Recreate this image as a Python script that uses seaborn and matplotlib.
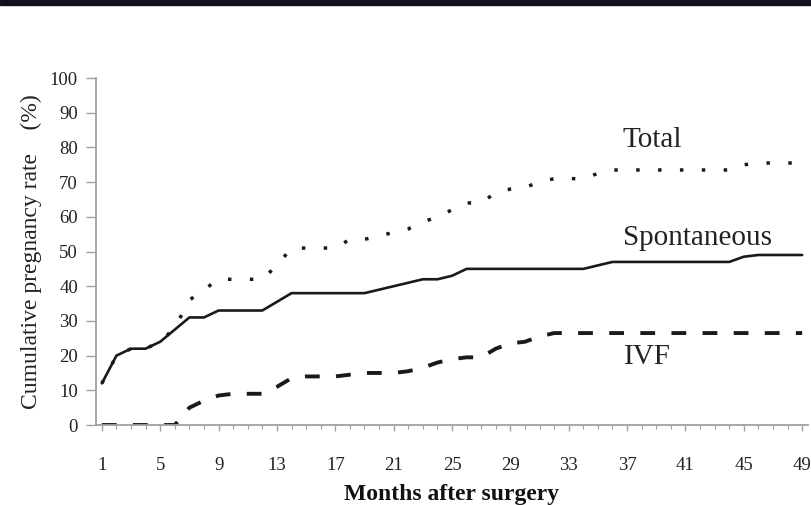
import matplotlib as mpl
mpl.use('Agg')
import matplotlib.pyplot as plt
import seaborn as sns
from matplotlib.patches import Rectangle
from matplotlib.ticker import MultipleLocator, FixedLocator

months = list(range(1, 50))

spontaneous = [12, 20, 22, 22, 24, 27.5, 31, 31, 33, 33,
               33, 33, 35.5, 38, 38, 38, 38, 38, 38, 39,
               40, 41, 42, 42, 43, 45, 45, 45, 45, 45,
               45, 45, 45, 45, 46, 47, 47, 47, 47, 47,
               47, 47, 47, 47, 48.5, 49, 49, 49, 49]

ivf = [0, 0, 0, 0, 0, 0, 5, 7, 8.5, 9,
       9, 9, 11, 13.5, 14, 14, 14, 14.5, 15, 15,
       15, 15.5, 16.5, 18, 19, 19.5, 19.5, 22, 23.5, 24,
       25.5, 26.5, 26.5, 26.5, 26.5, 26.5, 26.5, 26.5, 26.5, 26.5,
       26.5, 26.5, 26.5, 26.5, 26.5, 26.5, 26.5, 26.5, 26.5]

total = [12, 20, 22, 22, 24, 28, 36, 39, 42, 42,
         42, 42, 46, 51, 51, 51, 51, 53.5, 53.5, 54.5,
         55.5, 56.5, 58.5, 60, 62, 64, 64, 67, 68, 68.5,
         70, 71, 71, 71, 72.5, 73.5, 73.5, 73.5, 73.5, 73.5,
         73.5, 73.5, 73.5, 73.5, 75, 75.5, 75.5, 75.5, 75.5]

x_ticks = list(range(1, 50, 4))
y_ticks = list(range(0, 101, 10))

sns.set_style('ticks')
plt.rcParams['font.family'] = ['Liberation Serif', 'DejaVu Serif']

fig = plt.figure(figsize=(8.11, 5.05), dpi=100)
ax = fig.add_axes([0.1184, 0.1584, 0.8779, 0.6871])

ink = '#1a1a1a'

sns.lineplot(x=months, y=total, ax=ax, color=ink, lw=2.5)
ax.lines[-1].set_dashes((1, 5.3))
ax.lines[-1].set_dash_capstyle('butt')

sns.lineplot(x=months, y=ivf, ax=ax, color=ink, lw=2.8)
ax.lines[-1].set_dashes((3.8, 4.2))
ax.lines[-1].set_dash_capstyle('butt')

sns.lineplot(x=months, y=spontaneous, ax=ax, color=ink, lw=1.9)

ax.set_xlim(0.6, 49.4)
ax.set_ylim(0, 100)
ax.xaxis.set_major_locator(FixedLocator(x_ticks))
ax.xaxis.set_minor_locator(MultipleLocator(1))
ax.set_yticks(y_ticks)

for s in ['top', 'right']:
    ax.spines[s].set_visible(False)
for s in ['left', 'bottom']:
    ax.spines[s].set_color('#a0a0a0')
    ax.spines[s].set_linewidth(1.3)

ax.tick_params(axis='y', length=7, width=1, color='#a0a0a0', pad=6,
               labelsize=13.5, labelcolor='#222222')
ax.tick_params(axis='x', which='major', length=4, width=1, color='#a0a0a0',
               pad=19, labelsize=13.5, labelcolor='#222222')
ax.tick_params(axis='x', which='minor', length=3, width=0.8, color='#a0a0a0')

ax.set_xlabel('Months after surgery', fontsize=17, fontweight='bold',
              color='#111111', labelpad=7)
ax.set_ylabel('Cumulative pregnancy rate    (%)', fontsize=17,
              color='#222222', labelpad=6)

ax.text(38.7, 82.0, 'Total', fontsize=21, ha='center', va='center', color='#222222')
ax.text(41.8, 54.0, 'Spontaneous', fontsize=21, ha='center', va='center', color='#222222')
ax.text(38.4, 19.6, 'IVF', fontsize=21, ha='center', va='center', color='#222222')

# dark strip along the top edge
fig.patches.append(Rectangle((0, 0.99), 1, 0.01, transform=fig.transFigure,
                             color='#10101e', zorder=10))

fig.savefig('out.png', dpi=100)
